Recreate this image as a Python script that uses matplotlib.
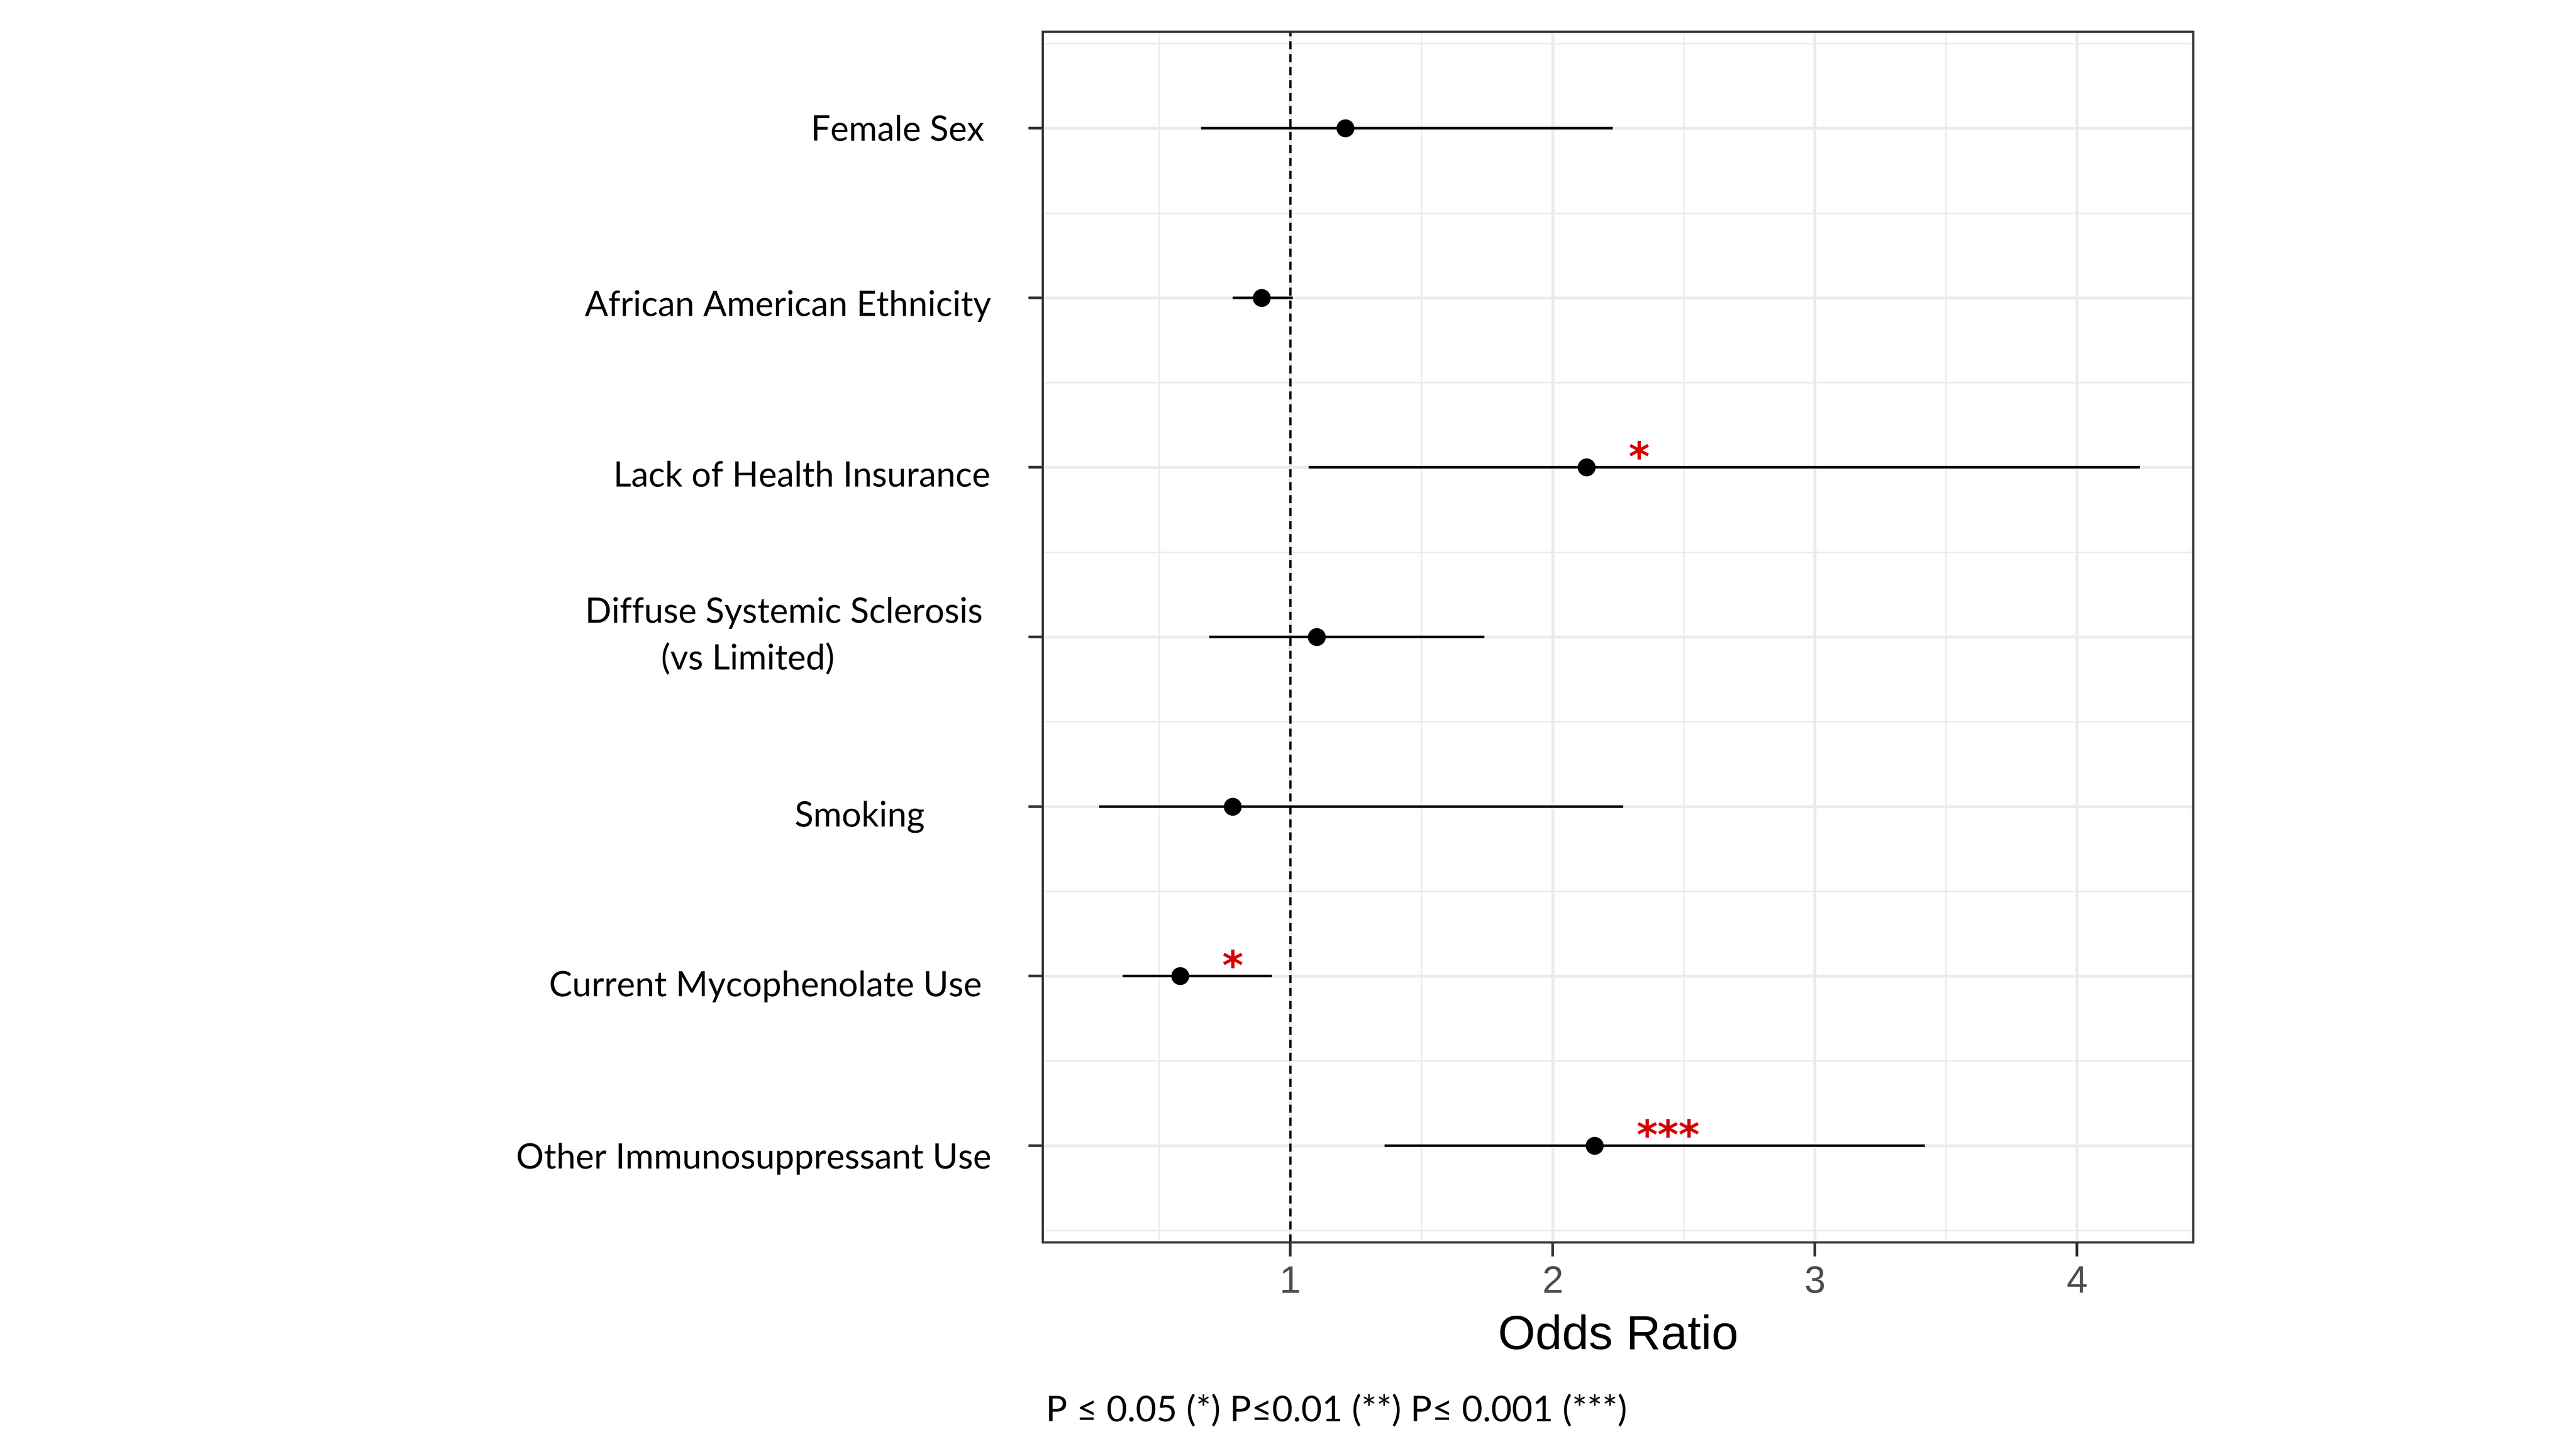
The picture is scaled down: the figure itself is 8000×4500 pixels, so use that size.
import numpy as np
import matplotlib.pyplot as plt

# data
labels = ["Female Sex", "African American Ethnicity", "Lack of Health Insurance",
          "Diffuse Systemic Sclerosis", "Smoking", "Current Mycophenolate Use",
          "Other Immunosuppressant Use"]
odds = [1.21, 0.89, 2.13, 1.10, 0.78, 0.58, 2.16]
ci_low = [0.66, 0.78, 1.07, 0.69, 0.27, 0.36, 1.36]
ci_high = [2.23, 1.01, 4.24, 1.74, 2.27, 0.93, 3.42]
stars = ["", "", "*", "", "", "*", "***"]

# label placement (figure fractions: right edge, vertical centre) - hand-laid in the original
lab_pos = [(0.382, 0.9096), (0.3848, 0.7887), (0.3844, 0.6709),
           (0.3815, 0.5769), (0.359, 0.4362), (0.3812, 0.3193), (0.3848, 0.2004)]

lab_font = ['Lato', 'DejaVu Sans']
red = '#D40000'

fig = plt.figure(figsize=(16, 9), dpi=500)
ax = fig.add_axes([0.4048, 0.1427, 0.4466, 0.8355])

y = np.arange(1, len(labels) + 1)

ax.axvline(1, color='black', lw=1.0, ls=(0, (3.6, 2.2)), zorder=2)
ax.hlines(y, ci_low, ci_high, color='black', lw=1.15, zorder=3)
ax.plot(odds, y, 'o', ms=7, color='black', zorder=4)

for yi, o, s in zip(y, odds, stars):
    if s:
        ax.text(o + 0.16, yi + 0.02, s, color=red, fontsize=18, family='DejaVu Sans',
                fontweight='bold', ha='left', va='baseline', zorder=5)

ax.set_xlim(0.056, 4.443)
ax.set_ylim(7.57, 0.43)
ax.set_xticks([1, 2, 3, 4])
ax.set_xticks([0.5, 1.5, 2.5, 3.5], minor=True)
ax.set_yticks(y)
ax.set_yticks(np.arange(0.5, 8, 1), minor=True)
ax.set_yticklabels([])
ax.set_xticklabels(['1', '2', '3', '4'], family='Liberation Sans', fontsize=17, color='#4D4D4D')

ax.grid(which='major', color='#EBEBEB', lw=1.3)
ax.grid(which='minor', color='#EBEBEB', lw=0.65)
ax.set_axisbelow(True)
ax.tick_params(which='minor', length=0)
ax.tick_params(which='major', length=6.3, width=1.2, color='#333333', pad=4)
for sp in ax.spines.values():
    sp.set_color('#333333')
    sp.set_linewidth(1.0)

ax.set_xlabel('Odds Ratio', family='Liberation Sans', fontsize=21.5, labelpad=6)

# category labels
for (lx, ly), txt in zip(lab_pos, labels):
    fig.text(lx, ly, txt, ha='right', va='center', fontsize=15.5, family=lab_font)
    if txt.startswith("Diffuse"):
        fig.text(0.3239, ly - 0.032, "(vs Limited)", ha='right', va='center',
                 fontsize=15.5, family=lab_font)

fig.text(0.406, 0.019, "P \u2264 0.05 (*) P\u22640.01 (**) P\u2264 0.001 (***)",
         ha='left', va='baseline', fontsize=16, family=lab_font)

fig.savefig('out.png', dpi=500, facecolor='white')
